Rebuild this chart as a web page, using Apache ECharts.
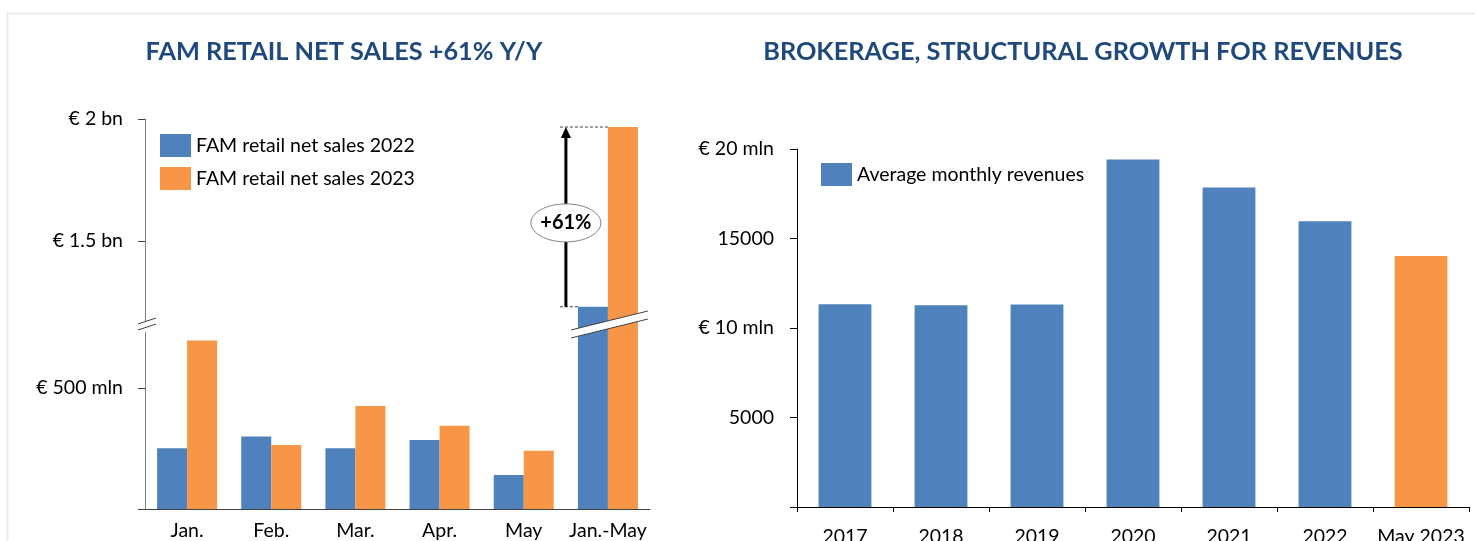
<!DOCTYPE html>
<html>
<head>
<meta charset="utf-8">
<script src="https://cdn.jsdelivr.net/npm/echarts@6/dist/echarts.min.js"></script>
<style>
  html, body { margin: 0; padding: 0; background: #fff; }
  #chart { width: 1475px; height: 541px; }
</style>
</head>
<body>
<div id="chart"></div>
<script>
// FAM retail net sales, € mln
const months = ['Jan.', 'Feb.', 'Mar.', 'Apr.', 'May', 'Jan.-May'];
const sales2022 = [251, 299, 251, 285, 140, 1229];
const sales2023 = [695, 264, 425, 343, 240, 1967];
const salesTickLabels = { 500: '€ 500 mln', 1500: '€ 1.5 bn', 2000: '€ 2 bn' };
const growthLabel = '+61%';

// brokerage average monthly revenues, € k
const years = ['2017', '2018', '2019', '2020', '2021', '2022', 'May 2023'];
const revenues = [11320, 11270, 11310, 19410, 17845, 15960, 14020];
const revenueTickLabels = { 0: '', 5000: '5000', 10000: '€ 10 mln', 15000: '15000', 20000: '€ 20 mln' };

const FONT = 'Lato, "Noto Sans", sans-serif';
const BLUE = '#4f81bd';
const ORANGE = '#f79646';
const TITLE = '#1f497d';

// broken axis: upper part starts at upperMin, lower part ends at lowerMax
const upperMin = 1150;
const lowerMax = 755;
const leftGrid = { left: 145, width: 505 };

const chart = echarts.init(document.getElementById('chart'));

const labelStyle = { fontFamily: FONT, fontSize: 19.5, color: '#000' };
const onlyAbove = arr => arr.map(v => (v > upperMin ? v : '-'));

const option = {
  animation: false,
  title: [
    {
      text: 'FAM RETAIL NET SALES +61% Y/Y',
      left: 339, top: 34, textAlign: 'center',
      textStyle: { fontFamily: FONT, fontSize: 25.3, fontWeight: 'bold', color: TITLE }
    },
    {
      text: 'BROKERAGE, STRUCTURAL GROWTH FOR REVENUES',
      left: 1078, top: 34, textAlign: 'center',
      textStyle: { fontFamily: FONT, fontSize: 25.3, fontWeight: 'bold', color: TITLE }
    }
  ],
  legend: [
    {
      data: ['FAM retail net sales 2022', 'FAM retail net sales 2023'],
      orient: 'vertical', left: 155, top: 129,
      itemWidth: 31, itemHeight: 23, itemGap: 10, icon: 'rect',
      textStyle: labelStyle
    },
    {
      data: ['Average monthly revenues'],
      left: 816, top: 158,
      itemWidth: 31, itemHeight: 23, icon: 'rect',
      textStyle: labelStyle
    }
  ],
  grid: [
    { left: leftGrid.left, width: leftGrid.width, top: 119, height: 207, outerBoundsMode: 'none' },
    { left: leftGrid.left, width: leftGrid.width, top: 326, height: 183, outerBoundsMode: 'none' },
    { left: 797, width: 672, top: 149, height: 358, outerBoundsMode: 'none' }
  ],
  xAxis: [
    { gridIndex: 0, type: 'category', data: months, show: false },
    {
      gridIndex: 1, type: 'category', data: months,
      axisLine: { lineStyle: { color: '#404040' } },
      axisTick: { show: false },
      axisLabel: Object.assign({ margin: 12, interval: 0 }, labelStyle)
    },
    {
      gridIndex: 2, type: 'category', data: years,
      axisLine: { lineStyle: { color: '#000' } },
      axisTick: { show: true, length: 5, lineStyle: { color: '#000' } },
      axisLabel: Object.assign({ margin: 20, interval: 0 }, labelStyle)
    }
  ],
  yAxis: [
    {
      gridIndex: 0, type: 'value', min: upperMin, max: 2000,
      splitLine: { show: false },
      axisLine: { show: true, lineStyle: { color: '#808080' } },
      axisTick: { show: true, length: 7, customValues: [1500, 2000], lineStyle: { color: '#404040' } },
      axisLabel: Object.assign({ margin: 22, customValues: [1500, 2000], formatter: v => salesTickLabels[v] }, labelStyle)
    },
    {
      gridIndex: 1, type: 'value', min: 0, max: lowerMax,
      splitLine: { show: false },
      axisLine: { show: true, lineStyle: { color: '#808080' } },
      axisTick: { show: true, length: 7, customValues: [0, 500], lineStyle: { color: '#404040' } },
      axisLabel: Object.assign({ margin: 22, customValues: [500], formatter: v => salesTickLabels[v] }, labelStyle)
    },
    {
      gridIndex: 2, type: 'value', min: 0, max: 20000, interval: 5000,
      splitLine: { show: false },
      axisLine: { show: true, lineStyle: { color: '#000' } },
      axisTick: { show: true, length: 7, lineStyle: { color: '#000' } },
      axisLabel: Object.assign({ margin: 23, formatter: v => revenueTickLabels[v] }, labelStyle)
    }
  ],
  series: [
    {
      name: 'FAM retail net sales 2022', type: 'bar', xAxisIndex: 1, yAxisIndex: 1,
      data: sales2022, barGap: '0%', barCategoryGap: '28.7%', itemStyle: { color: BLUE }
    },
    {
      name: 'FAM retail net sales 2023', type: 'bar', xAxisIndex: 1, yAxisIndex: 1,
      data: sales2023, barGap: '0%', barCategoryGap: '28.7%', itemStyle: { color: ORANGE }
    },
    {
      name: 'FAM retail net sales 2022', type: 'bar', xAxisIndex: 0, yAxisIndex: 0,
      data: onlyAbove(sales2022), barGap: '0%', barCategoryGap: '28.7%', itemStyle: { color: BLUE }
    },
    {
      name: 'FAM retail net sales 2023', type: 'bar', xAxisIndex: 0, yAxisIndex: 0,
      data: onlyAbove(sales2023), barGap: '0%', barCategoryGap: '28.7%', itemStyle: { color: ORANGE }
    },
    {
      name: 'Average monthly revenues', type: 'bar', xAxisIndex: 2, yAxisIndex: 2,
      barCategoryGap: '45%', itemStyle: { color: BLUE },
      // the partial year is highlighted in orange
      data: revenues.map((v, i) => (i === revenues.length - 1 ? { value: v, itemStyle: { color: ORANGE } } : v))
    }
  ]
};

chart.setOption(option);

// overlays: axis break marks and the growth arrow, placed from the axes
const last = months.length - 1;
const [xc, yGap] = chart.convertToPixel({ gridIndex: 1 }, [last, lowerMax]);
const yTop = chart.convertToPixel({ gridIndex: 0 }, [last, sales2023[last]])[1];
const yBase = chart.convertToPixel({ gridIndex: 0 }, [last, sales2022[last]])[1];
const band = leftGrid.width / months.length;
const barW = band * (1 - 0.287) / 2;
const ax = leftGrid.left;
const xa = xc - barW - 12;
const dark = '#404040';

const graphic = [
  { type: 'rect', z: 0, shape: { x: 7.5, y: 13.5, width: 1500, height: 600 }, style: { fill: 'none', stroke: '#ebebeb', lineWidth: 2 } },
  // break across the Jan.-May bars
  {
    type: 'polygon', z: 100,
    shape: { points: [[xc - 37, yGap + 4], [xc + 40, yGap - 15], [xc + 40, yGap - 7], [xc - 37, yGap + 12]] },
    style: { fill: '#fff' }
  },
  { type: 'line', z: 101, shape: { x1: xc - 37, y1: yGap + 4, x2: xc + 40, y2: yGap - 15 }, style: { stroke: dark, lineWidth: 1 } },
  { type: 'line', z: 101, shape: { x1: xc - 37, y1: yGap + 12, x2: xc + 40, y2: yGap - 7 }, style: { stroke: dark, lineWidth: 1 } },
  // break on the y axis
  { type: 'rect', z: 100, shape: { x: ax - 3, y: yGap - 5, width: 6, height: 11 }, style: { fill: '#fff' } },
  { type: 'line', z: 101, shape: { x1: ax - 7, y1: yGap - 2, x2: ax + 11, y2: yGap - 8 }, style: { stroke: dark, lineWidth: 1 } },
  { type: 'line', z: 101, shape: { x1: ax - 7, y1: yGap + 4, x2: ax + 11, y2: yGap - 2 }, style: { stroke: dark, lineWidth: 1 } },
  // growth arrow
  { type: 'line', z: 100, shape: { x1: xa - 6, y1: yTop, x2: xc, y2: yTop }, style: { stroke: dark, lineWidth: 1, lineDash: [3, 2] } },
  { type: 'line', z: 100, shape: { x1: xa - 6, y1: yBase, x2: xc - barW, y2: yBase }, style: { stroke: dark, lineWidth: 1, lineDash: [3, 2] } },
  { type: 'line', z: 100, shape: { x1: xa, y1: yBase, x2: xa, y2: yTop + 8 }, style: { stroke: '#000', lineWidth: 3 } },
  { type: 'polygon', z: 100, shape: { points: [[xa, yTop], [xa - 5, yTop + 11], [xa + 5, yTop + 11]] }, style: { fill: '#000' } },
  {
    type: 'ellipse', z: 102,
    shape: { cx: xa, cy: (yTop + yBase) / 2 + 6, rx: 35, ry: 19 },
    style: { fill: '#fff', stroke: '#808080', lineWidth: 1 }
  },
  {
    type: 'text', z: 103, x: xa, y: (yTop + yBase) / 2 + 6,
    style: { text: growthLabel, align: 'center', verticalAlign: 'middle', font: 'bold 20px ' + FONT, fill: '#000' }
  }
];

chart.setOption({ graphic: graphic });
</script>
</body>
</html>
